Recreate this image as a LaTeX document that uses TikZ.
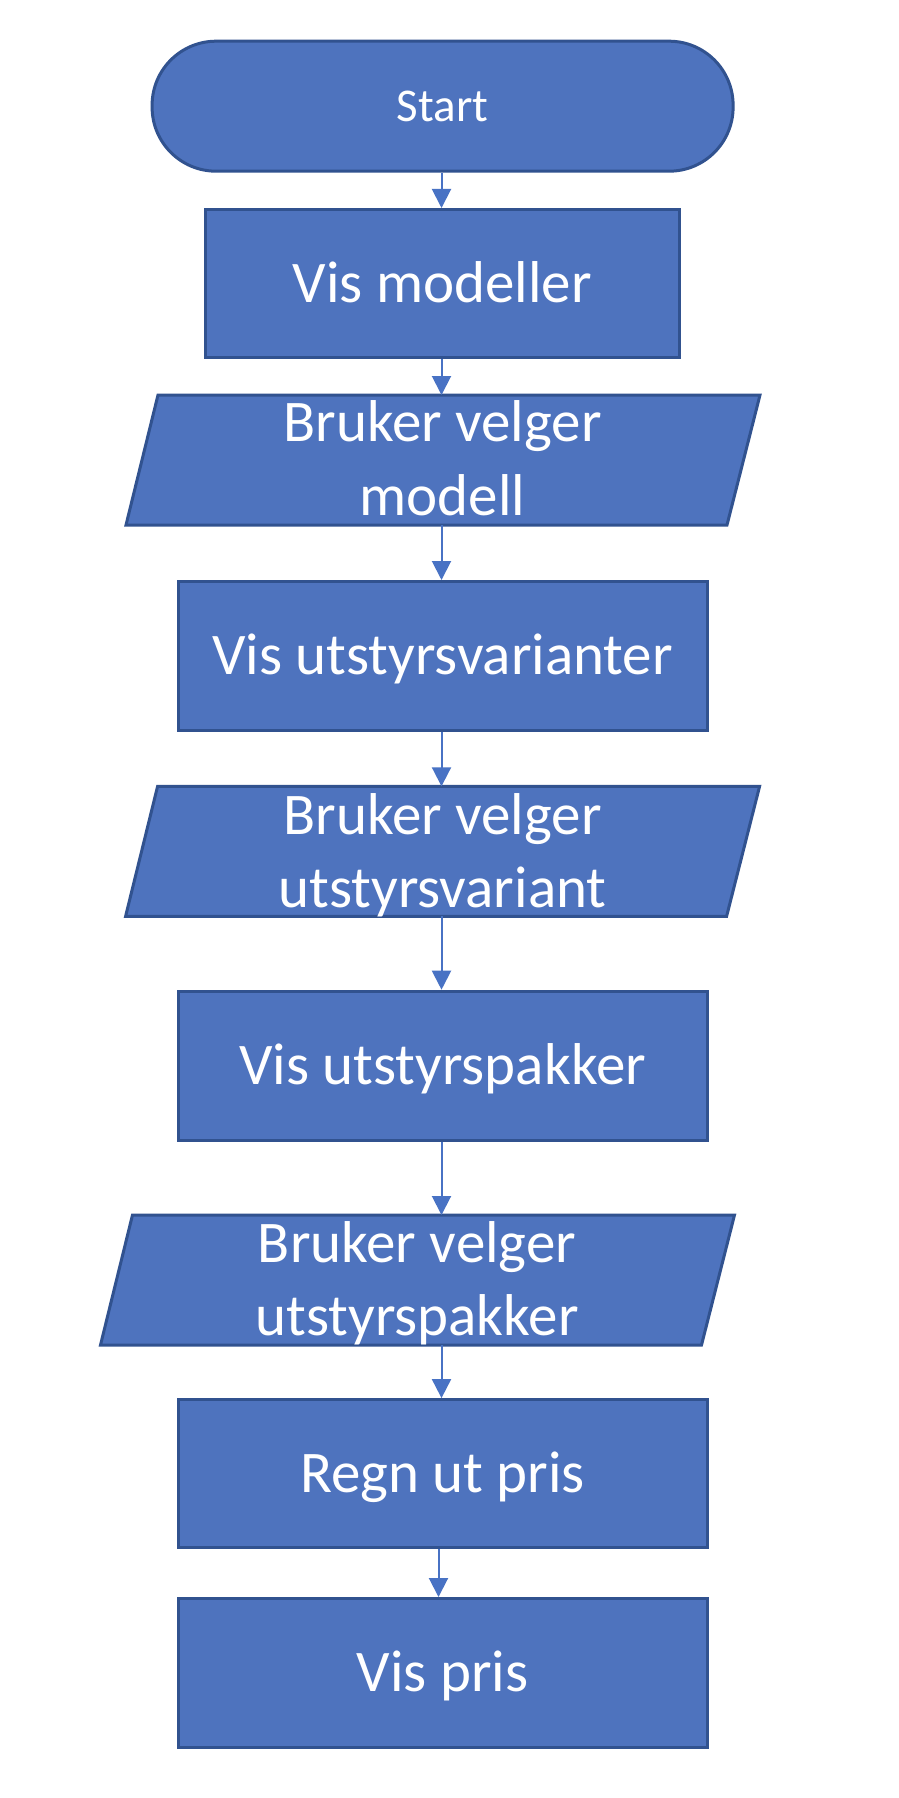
\documentclass[tikz,border=0pt]{standalone}
\usepackage{fontspec}
\setmainfont{Carlito}
\usetikzlibrary{arrows.meta}
\definecolor{fillblue}{RGB}{78,115,190}
\definecolor{edgeblue}{RGB}{49,82,143}
\definecolor{arrowblue}{RGB}{72,114,196}
\begin{document}
\begin{tikzpicture}[x=1pt,y=-1pt,
  shp/.style={draw=edgeblue,fill=fillblue,line width=3pt},
  bigfont/.style={text=white,font=\fontsize{59}{73}\selectfont},
  boxnode/.style={shp,rectangle,minimum width=529pt,minimum height=149pt,inner sep=0pt,bigfont,text height=37.3pt,text depth=0pt},
  startnode/.style={shp,rectangle,rounded corners=64pt,minimum width=581pt,minimum height=130pt,inner sep=0pt,text=white,font=\fontsize{47}{57}\selectfont,text height=29.7pt,text depth=0pt},
  paranode/.style={rectangle,minimum width=634pt,minimum height=130pt,inner sep=0pt,outer sep=0pt},
  ptxt/.style={bigfont,anchor=base,inner sep=0pt},
  arr/.style={draw=arrowblue,line width=2pt,-{Triangle[width=19pt,length=19pt]}}
]
\fill[white] (0,0) rectangle (898,1798);
\useasboundingbox (0,0) rectangle (898,1798);

\coordinate (ax) at (441.5,0);
\coordinate (ax2) at (438.5,0);

% shapes
\node[startnode] (start) at (442.6,106.2) {Start};
\node[boxnode,minimum width=474pt,minimum height=148pt] (b1) at (442.3,283.5) {Vis modeller};

\node[paranode] (p1) at (443,460) {};
\draw[shp] (p1.south west) -- ++(601,0) -- (p1.north east) -- ++(-602,0) -- cycle;
\node[ptxt] (p1a) at (442.5,441.7) {Bruker velger};
\node[ptxt] (p1b) at (442.5,515) {modell};

\node[boxnode] (b2) at (442.6,656) {Vis utstyrsvarianter};

\node[paranode] (p2) at (442.6,851.3) {};
\draw[shp] (p2.south west) -- ++(601,0) -- (p2.north east) -- ++(-602,0) -- cycle;
\node[ptxt] (p2a) at (442.5,834.5) {Bruker velger};
\node[ptxt] (p2b) at (442.5,907.5) {utstyrsvariant};

\node[boxnode] (b3) at (442.6,1065.7) {Vis utstyrspakker};

\node[paranode] (p3) at (417.5,1280) {};
\draw[shp] (p3.south west) -- ++(601,0) -- (p3.north east) -- ++(-602,0) -- cycle;
\node[ptxt] (p3a) at (417,1262.5) {Bruker velger};
\node[ptxt] (p3b) at (417,1335) {utstyrspakker};

\node[boxnode,minimum height=148pt] (b4) at (442.6,1473.6) {Regn ut pris};
\node[boxnode] (b5) at (442.6,1673) {Vis pris};

% connectors
\draw[arr] (start.south -| ax) -- (b1.north -| ax);
\draw[arr] (b1.south -| ax) -- (p1.north -| ax);
\draw[arr] (p1.south -| ax) -- (b2.north -| ax);
\draw[arr] (b2.south -| ax) -- (p2.north -| ax);
\draw[arr] (p2.south -| ax) -- (b3.north -| ax);
\draw[arr] (b3.south -| ax) -- (p3.north -| ax);
\draw[arr] (p3.south -| ax) -- (b4.north -| ax);
\draw[arr] (b4.south -| ax2) -- (b5.north -| ax2);
\end{tikzpicture}
\end{document}
